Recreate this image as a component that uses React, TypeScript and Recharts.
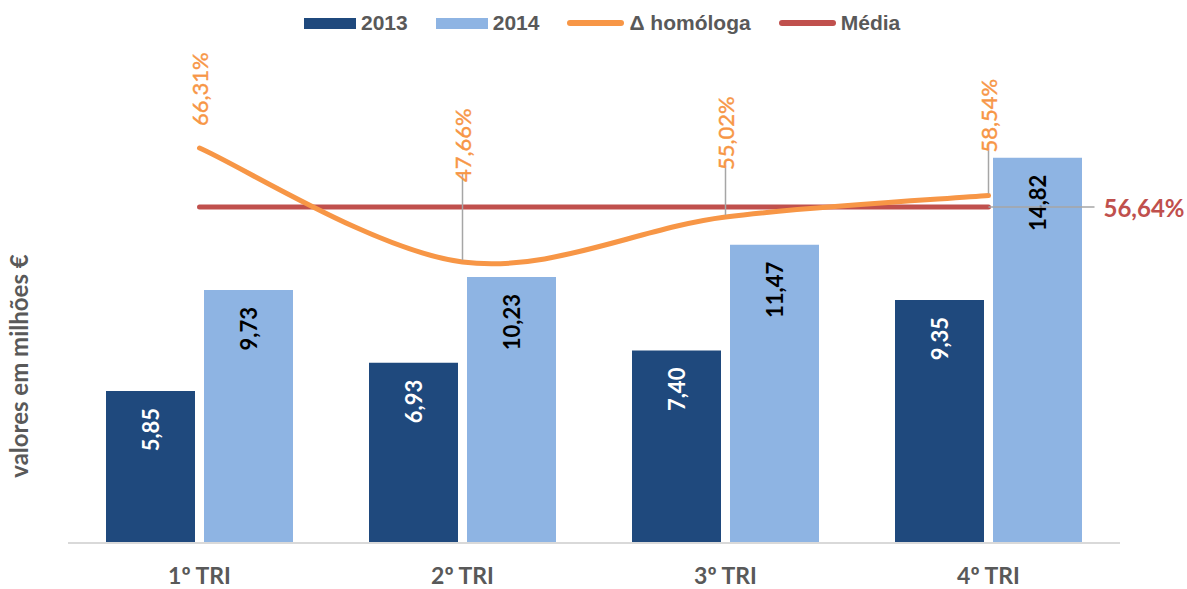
import {
  ComposedChart,
  Bar,
  Line,
  XAxis,
  YAxis,
  Legend,
  LabelList,
} from 'recharts'

const categories = ['1º TRI', '2º TRI', '3º TRI', '4º TRI']
const values2013 = [5.85, 6.93, 7.4, 9.35]
const values2014 = [9.73, 10.23, 11.47, 14.82]
const homologa = [66.31, 47.66, 55.02, 58.54]
const media = [56.64, 56.64, 56.64, 56.64]

const legendOrder = ['2013', '2014', 'Δ homóloga', 'Média']

// how far above each point the rotated % label ends (manual placement as in the original)
const labelLift = [22, 80, 47, 43]

const NAVY = '#1F497D'
const LIGHT = '#8EB4E3'
const ORANGE = '#F79646'
const RED = '#C0504D'
const GREY = '#595959'
const FONT = 'Lato, "Open Sans", sans-serif'

const data = categories.map((c, i) => ({
  cat: c,
  y2013: values2013[i],
  y2014: values2014[i],
  homologa: homologa[i],
  media: media[i],
}))

const fmt = (v: number, digits = 2) => v.toFixed(digits).replace('.', ',')

// Excel-like smoothed line (cardinal spline through the points)
function excelSmooth(context: any) {
  let pts: [number, number][] = []
  return {
    areaStart() {},
    areaEnd() {},
    lineStart() {
      pts = []
    },
    point(x: number, y: number) {
      pts.push([+x, +y])
    },
    lineEnd() {
      const n = pts.length
      if (!n) return
      context.moveTo(pts[0][0], pts[0][1])
      for (let i = 0; i < n - 1; i++) {
        const p0 = pts[i - 1] ?? pts[i]
        const p1 = pts[i]
        const p2 = pts[i + 1]
        const p3 = pts[i + 2] ?? pts[i + 1]
        context.bezierCurveTo(
          p1[0] + (p2[0] - p0[0]) / 6,
          p1[1] + (p2[1] - p0[1]) / 6,
          p2[0] - (p3[0] - p1[0]) / 6,
          p2[1] - (p3[1] - p1[1]) / 6,
          p2[0],
          p2[1],
        )
      }
    },
  }
}

function barValue(color: string) {
  return (props: any) => {
    const { x, y, width, value } = props
    const cx = x + width / 2
    const ty = y + 17
    return (
      <text
        x={cx}
        y={ty}
        transform={`rotate(-90 ${cx} ${ty})`}
        textAnchor="end"
        dominantBaseline="central"
        fill={color}
        fontFamily={FONT}
        fontWeight={700}
        fontSize={22}
      >
        {fmt(value)}
      </text>
    )
  }
}

function homologaLabel(props: any) {
  const { x, y, value, index } = props
  const lift = labelLift[index] ?? 22
  const ty = y - lift
  return (
    <g>
      {lift > 30 && (
        <line x1={x} y1={y - 2} x2={x} y2={ty - 8} stroke="#A6A6A6" strokeWidth={1.5} />
      )}
      <text
        x={x}
        y={ty}
        transform={`rotate(-90 ${x} ${ty})`}
        textAnchor="start"
        dominantBaseline="central"
        fill={ORANGE}
        stroke={ORANGE}
        strokeWidth={0.4}
        fontFamily={FONT}
        fontSize={22}
      >
        {fmt(value)}%
      </text>
    </g>
  )
}

function mediaLabel(props: any) {
  const { x, y, value, index } = props
  if (index !== media.length - 1) return null
  return (
    <g>
      <line x1={x} y1={y} x2={x + 106} y2={y} stroke="#A6A6A6" strokeWidth={1.5} />
      <text
        x={x + 115}
        y={y}
        dominantBaseline="central"
        fill={RED}
        fontFamily={FONT}
        fontWeight={700}
        fontSize={24}
      >
        {fmt(value)}%
      </text>
    </g>
  )
}

function renderLegend(props: any) {
  const items = [...(props.payload ?? [])].sort(
    (a: any, b: any) => legendOrder.indexOf(a.value) - legendOrder.indexOf(b.value),
  )
  return (
    <div style={{ display: 'flex', alignItems: 'center', gap: 28 }}>
      {items.map((it: any) => (
        <div key={it.value} style={{ display: 'flex', alignItems: 'center', gap: 5 }}>
          {it.type === 'rect' ? (
            <span style={{ width: 52, height: 11, background: it.color, display: 'inline-block' }} />
          ) : (
            <span
              style={{
                width: 57,
                height: 6,
                borderRadius: 3,
                background: it.color,
                display: 'inline-block',
              }}
            />
          )}
          <span
            style={{
              fontFamily: '"Liberation Sans", Arial, sans-serif',
              fontWeight: 700,
              fontSize: 21,
              lineHeight: '24px',
              color: GREY,
            }}
          >
            {it.value}
          </span>
        </div>
      ))}
    </div>
  )
}

function yLabel() {
  return (
    <text
      x={18}
      y={366}
      transform="rotate(-90 18 366)"
      textAnchor="middle"
      dominantBaseline="central"
      fill={GREY}
      fontFamily={FONT}
      fontWeight={700}
      fontSize={24}
    >
      valores em milhões €
    </text>
  )
}

export default function App() {
  return (
    <div style={{ position: 'absolute', left: 0, top: 0, background: '#fff' }}>
      <ComposedChart
        width={1187}
        height={589}
        data={data}
        margin={{ top: 23, right: 67, bottom: 0, left: 0 }}
        barGap={9}
      >
        <XAxis
          dataKey="cat"
          height={46}
          axisLine={{ stroke: '#D9D9D9', strokeWidth: 2 }}
          tickLine={false}
          tickMargin={19}
          tick={{ fill: GREY, fontFamily: FONT, fontWeight: 700, fontSize: 23 }}
        />
        <YAxis
          yAxisId="left"
          domain={[0, 20]}
          width={68}
          tick={false}
          tickLine={false}
          axisLine={false}
          label={yLabel}
        />
        <YAxis yAxisId="right" orientation="right" domain={[1.69, 86.76]} hide />
        <Legend
          verticalAlign="middle"
          align="center"
          layout="horizontal"
          wrapperStyle={{ top: 11, left: 304, width: 'auto' }}
          content={renderLegend}
        />
        <Bar yAxisId="left" dataKey="y2013" name="2013" fill={NAVY} barSize={89} isAnimationActive={false}>
          <LabelList dataKey="y2013" content={barValue('#FFFFFF')} />
        </Bar>
        <Bar yAxisId="left" dataKey="y2014" name="2014" fill={LIGHT} barSize={89} isAnimationActive={false}>
          <LabelList dataKey="y2014" content={barValue('#000000')} />
        </Bar>
        <Line
          yAxisId="right"
          dataKey="media"
          name="Média"
          type="linear"
          stroke={RED}
          strokeWidth={5}
          strokeLinecap="round"
          dot={false}
          activeDot={false}
          isAnimationActive={false}
        >
          <LabelList dataKey="media" content={mediaLabel} />
        </Line>
        <Line
          yAxisId="right"
          dataKey="homologa"
          name="Δ homóloga"
          type={excelSmooth as any}
          stroke={ORANGE}
          strokeWidth={5}
          strokeLinecap="round"
          dot={false}
          activeDot={false}
          isAnimationActive={false}
        >
          <LabelList dataKey="homologa" content={homologaLabel} />
        </Line>
      </ComposedChart>
    </div>
  )
}
